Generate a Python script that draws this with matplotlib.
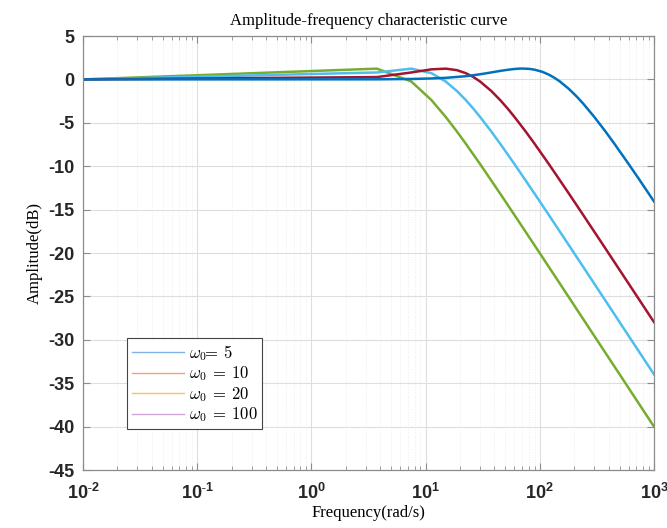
import matplotlib
matplotlib.use("Agg")
import matplotlib.pyplot as plt
from matplotlib.lines import Line2D
from matplotlib.ticker import LogLocator, MultipleLocator, NullFormatter, FuncFormatter
import numpy as np

# magnitude (dB), one array per curve
f_green = [0.01, 3.75, 7.5, 11.25, 15, 18.75, 22.5, 30, 45, 60, 90, 150, 300, 600, 1000]
db_green = [0.0, 1.24, -0.24, -2.38, -4.32, -5.98, -7.41, -9.75, -13.16, -15.62,
            -19.11, -23.53, -29.55, -35.56, -40.0]

f_lblue = [0.01, 3.75, 7.5, 11.25, 15, 18.75, 22.5, 26.25, 30, 37.5, 45, 60, 90,
           120, 180, 300, 600, 1000]
db_lblue = [0.0, 0.80, 1.24, 0.72, -0.24, -1.32, -2.38, -3.38, -4.32, -5.98, -7.41,
            -9.75, -13.16, -15.62, -19.11, -23.53, -29.55, -33.98]

f_red = [0.01, 3.75, 7.5, 11.25, 15, 18.75, 22.5, 26.25, 30, 37.5, 45, 52.5, 60, 75,
         90, 120, 180, 240, 360, 600, 1000]
db_red = [0.0, 0.27, 0.80, 1.16, 1.24, 1.07, 0.72, 0.27, -0.24, -1.32, -2.38, -3.38,
          -4.32, -5.98, -7.41, -9.75, -13.16, -15.62, -19.11, -23.53, -27.96]

f_blue = [0.01, 3.75, 7.5, 11.25, 15, 22.5, 30, 37.5, 45, 52.5, 60, 67.5, 75, 82.5,
          90, 105, 120, 135, 150, 180, 210, 240, 300, 375, 450, 600, 750, 900, 1000]
db_blue = [0.0, 0.01, 0.05, 0.11, 0.18, 0.37, 0.59, 0.80, 0.98, 1.11, 1.20, 1.25,
           1.24, 1.20, 1.12, 0.88, 0.55, 0.17, -0.24, -1.10, -1.96, -2.79, -4.32,
           -5.98, -7.41, -9.75, -11.61, -13.16, -14.06]

legend_labels = [r'$\omega_0\!\!=\:5$', r'$\omega_0\:=\:10$', r'$\omega_0\:=\:20$',
                 r'$\omega_0\:=\:100$']
legend_colors = ['#7fb3e3', '#f2a17f', '#f7c64e', '#cfa6dc']

plt.rcParams['mathtext.fontset'] = 'cm'
plt.rcParams['axes.unicode_minus'] = False


def decade_label(v, pos):
    e = int(round(np.log10(v)))
    if e < 0:
        return r'$\mathdefault{10^{\text{-}%d}}$' % (-e)
    return r'$\mathdefault{10^{%d}}$' % e


fig = plt.figure(figsize=(6.67, 5.28), dpi=100)
ax = fig.add_axes([0.1244, 0.1098, 0.8561, 0.822])

ax.semilogx(f_green, db_green, color='#77AC30', lw=1.8)
ax.semilogx(f_lblue, db_lblue, color='#4DBEEE', lw=1.8)
ax.semilogx(f_red, db_red, color='#A2142F', lw=1.8)
ax.semilogx(f_blue, db_blue, color='#0072BD', lw=1.8)

ax.set_xlim(0.01, 1000)
ax.set_ylim(-45, 5)
ax.yaxis.set_major_locator(MultipleLocator(5))
ax.xaxis.set_major_locator(LogLocator(base=10, numticks=10))
ax.xaxis.set_major_formatter(FuncFormatter(decade_label))
ax.xaxis.set_minor_locator(LogLocator(base=10, subs=range(2, 10), numticks=20))
ax.xaxis.set_minor_formatter(NullFormatter())

ax.grid(True, which='major', color='#dedede', lw=0.8)
ax.grid(True, which='minor', axis='x', color='#e8e8e8', lw=0.6, ls=(0, (1, 2)))
ax.set_axisbelow(True)

for s in ax.spines.values():
    s.set_color('#8c8c8c')
    s.set_linewidth(0.9)
ax.tick_params(which='both', direction='in', top=True, right=True, colors='#8c8c8c',
               labelcolor='#262626')
ax.tick_params(which='major', length=5, labelsize=13)
ax.tick_params(which='minor', length=3)
ax.tick_params(axis='x', pad=9)
ax.tick_params(axis='y', pad=6)
for lab in ax.get_xticklabels() + ax.get_yticklabels():
    lab.set_family('Liberation Sans')
    lab.set_weight('bold')

ax.set_title('Amplitude-frequency characteristic curve', family='Liberation Serif',
             fontsize=12, pad=8)
ax.set_xlabel('Frequency(rad/s)', family='Liberation Serif', fontsize=12, labelpad=2)
ax.set_ylabel('Amplitude(dB)', family='Liberation Serif', fontsize=12, labelpad=4)

handles = [Line2D([], [], color=c, lw=1.0) for c in legend_colors]
leg = ax.legend(handles, legend_labels, loc='lower left', bbox_to_anchor=(0.077, 0.094),
                borderaxespad=0, fancybox=False, framealpha=1, edgecolor='#444444',
                fontsize=12, handlelength=3.1, labelspacing=0.1, borderpad=0.3,
                handletextpad=0.3)
leg.get_frame().set_linewidth(0.8)

fig.savefig('out.png', dpi=100)
